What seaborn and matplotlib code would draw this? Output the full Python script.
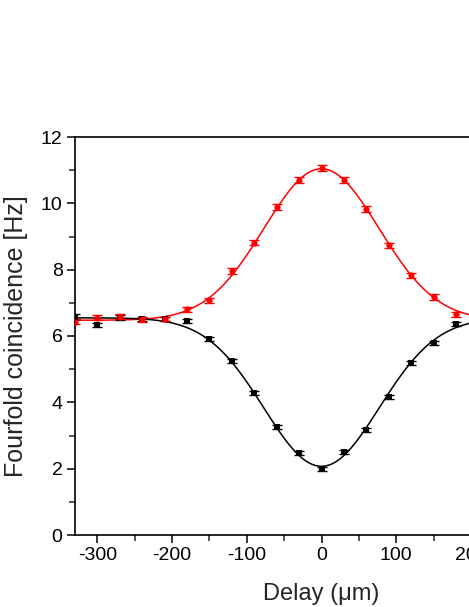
import matplotlib
matplotlib.use("Agg")
import matplotlib.pyplot as plt
import numpy as np
import pandas as pd
import seaborn as sns
from matplotlib.ticker import MultipleLocator

# Data
delay = [-330, -300, -270, -240, -210, -180, -150, -120, -90, -60, -30,
         0, 30, 60, 90, 120, 150, 180, 210, 240, 270, 300]
red_counts = [6.43, 6.55, 6.58, 6.50, 6.51, 6.80, 7.08, 7.96, 8.81, 9.88, 10.69,
              11.06, 10.69, 9.82, 8.73, 7.83, 7.18, 6.65, 6.58, 6.52, 6.50, 6.48]
red_err = [0.08, 0.08, 0.08, 0.07, 0.07, 0.08, 0.08, 0.08, 0.08, 0.09, 0.09,
           0.09, 0.09, 0.09, 0.08, 0.08, 0.08, 0.08, 0.08, 0.08, 0.08, 0.08]
black_counts = [6.58, 6.33, 6.55, 6.50, 6.51, 6.46, 5.90, 5.26, 4.27, 3.25, 2.48,
                2.00, 2.49, 3.17, 4.15, 5.18, 5.78, 6.35, 6.45, 6.50, 6.52, 6.50]
black_err = [0.07, 0.07, 0.07, 0.06, 0.06, 0.06, 0.06, 0.06, 0.06, 0.06, 0.06,
             0.06, 0.06, 0.06, 0.06, 0.06, 0.06, 0.06, 0.06, 0.06, 0.06, 0.06]

df = pd.DataFrame({"delay": delay, "red": red_counts, "red_err": red_err,
                   "black": black_counts, "black_err": black_err})


def gauss_fit(x, y):
    # least squares gaussian fit: baseline + amp * exp(-x^2 / 2 s^2), grid over s
    x = np.asarray(x, float)
    y = np.asarray(y, float)
    best = None
    for s in np.linspace(40, 140, 501):
        A = np.column_stack([np.ones_like(x), np.exp(-x ** 2 / (2 * s ** 2))])
        coef, res, _, _ = np.linalg.lstsq(A, y, rcond=None)
        r = np.sum((A @ coef - y) ** 2)
        if best is None or r < best[0]:
            best = (r, s, coef)
    _, s, coef = best
    xs = np.linspace(-340, 340, 400)
    return pd.DataFrame({"delay": xs, "fit": coef[0] + coef[1] * np.exp(-xs ** 2 / (2 * s ** 2))})


red_fit = gauss_fit(df["delay"], df["red"])
black_fit = gauss_fit(df["delay"], df["black"])

sns.set_style("ticks")
plt.rcParams['font.family'] = ['Liberation Sans', 'DejaVu Sans']
plt.rcParams['axes.unicode_minus'] = False

fig = plt.figure(figsize=(4.69, 6.07), dpi=100)
ax = fig.add_axes([75 / 469, 72 / 607, 493 / 469, 398 / 607])

sns.lineplot(data=red_fit, x="delay", y="fit", color="red", linewidth=1.1, ax=ax)
sns.lineplot(data=black_fit, x="delay", y="fit", color="black", linewidth=1.1, ax=ax)

ax.errorbar(df["delay"], df["black"], yerr=df["black_err"], fmt="none",
            ecolor="black", elinewidth=1, capsize=3.5, capthick=1)
ax.errorbar(df["delay"], df["red"], yerr=df["red_err"], fmt="none",
            ecolor="red", elinewidth=1, capsize=3.5, capthick=1)
sns.scatterplot(data=df, x="delay", y="black", marker="s", color="black",
                s=18, linewidth=0, ax=ax, zorder=5)
sns.scatterplot(data=df, x="delay", y="red", marker="o", color="red",
                s=20, linewidth=0, ax=ax, zorder=5)

ax.set_xlim(-330, 330)
ax.set_ylim(0, 12)
ax.xaxis.set_major_locator(MultipleLocator(100))
ax.xaxis.set_minor_locator(MultipleLocator(50))
ax.yaxis.set_major_locator(MultipleLocator(2))
ax.yaxis.set_minor_locator(MultipleLocator(1))
ax.tick_params(which="major", direction="out", length=6, width=1.1, labelsize=14,
               colors="black", pad=3)
ax.tick_params(which="minor", direction="out", length=4, width=1.1)
for sp in ax.spines.values():
    sp.set_linewidth(1.2)
    sp.set_color("black")

ax.set_xlabel("Delay (μm)", fontsize=17, labelpad=13)
ax.set_ylabel("Fourfold coincidence [Hz]", fontsize=18, labelpad=9)

fig.savefig("out.png", dpi=100)
